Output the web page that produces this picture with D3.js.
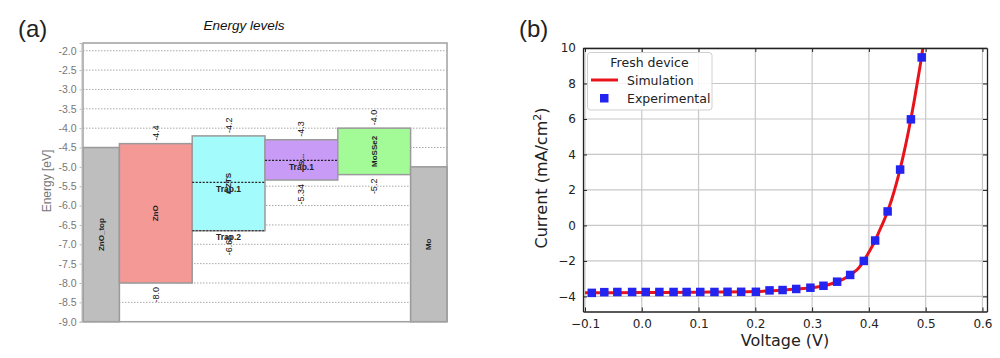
<!DOCTYPE html>
<html>
<head>
<meta charset="utf-8">
<script src="https://cdn.jsdelivr.net/npm/d3@7"></script>
<style>
  html, body { margin: 0; padding: 0; background: #fff; }
  svg { display: block; }
</style>
</head>
<body>
<svg id="chart" width="1000" height="358"></svg>
<script>
// ---------- Panel (a) data: energy levels ----------
const layers = ["ZnO_top", "ZnO", "CZTS", "S...", "MoSSe2", "Mo"];
const layerWidth = [0.5, 1, 1, 1, 1, 0.5];
const bandTop = [-4.5, -4.4, -4.2, -4.3, -4.0, -5.0];
const bandBottom = [-9.0, -8.0, -6.65, -5.34, -5.2, -9.0];
const topLabels = [null, "-4.4", "-4.2", "-4.3", "-4.0", null];
const bottomLabels = [null, "-8.0", "-6.65", "-5.34", "-5.2", null];
const layerColors = ["#bebebe", "#f59997", "#a3fbfb", "#c89bf7", "#a3fb97", "#bebebe"];
const trapLayer = ["CZTS", "CZTS", "S..."];
const trapEnergy = [-5.4, -6.65, -4.83];
const trapName = ["Trap.1", "Trap.2", "Trap.1"];
const energyTicks = [-9.0, -8.5, -8.0, -7.5, -7.0, -6.5, -6.0, -5.5, -5.0, -4.5, -4.0, -3.5, -3.0, -2.5, -2.0];

// ---------- Panel (b) data: J-V curve ----------
const simVoltage = [-0.10, 0.00, 0.10, 0.20, 0.25, 0.28, 0.30, 0.32, 0.33, 0.34, 0.35, 0.36, 0.37, 0.38, 0.39, 0.40, 0.41, 0.42, 0.43, 0.44, 0.45, 0.46, 0.47, 0.48, 0.49, 0.50];
const simCurrent = [-3.80, -3.78, -3.76, -3.72, -3.64, -3.57, -3.51, -3.41, -3.33, -3.23, -3.10, -2.93, -2.72, -2.47, -2.05, -1.50, -0.92, -0.20, 0.55, 1.45, 2.55, 3.85, 5.35, 7.05, 8.95, 11.0];
const expVoltage = [-0.088, -0.066, -0.043, -0.017, 0.007, 0.031, 0.056, 0.079, 0.103, 0.128, 0.151, 0.175, 0.201, 0.225, 0.248, 0.272, 0.297, 0.320, 0.344, 0.367, 0.391, 0.411, 0.433, 0.455, 0.474, 0.493];
const expCurrent = [-3.80, -3.76, -3.75, -3.75, -3.75, -3.75, -3.75, -3.75, -3.75, -3.75, -3.74, -3.74, -3.74, -3.66, -3.64, -3.58, -3.51, -3.40, -3.17, -2.79, -2.0, -0.85, 0.79, 3.15, 5.98, 9.47];
const xTicksB = [-0.1, 0.0, 0.1, 0.2, 0.3, 0.4, 0.5, 0.6];
const yTicksB = [-4, -2, 0, 2, 4, 6, 8, 10];

const svg = d3.select("#chart");

// ================= Panel (a) =================
const aLeft = 83, aRight = 447, aTop = 43, aBottom = 321.7;
const cum = [0];
layerWidth.forEach((w, i) => cum.push(cum[i] + w));
const xA = d3.scaleLinear().domain([0, cum[cum.length - 1]]).range([aLeft, aRight]);
const yA = d3.scaleLinear().domain([-9.0, -1.8]).range([aBottom, aTop]);

svg.append("text").attr("x", 18).attr("y", 37).attr("font-family", "Liberation Sans, Arial, sans-serif")
  .attr("font-size", 24).attr("fill", "#222").text("(a)");
svg.append("text").attr("x", 244).attr("y", 30).attr("text-anchor", "middle")
  .attr("font-family", "Liberation Sans, Arial, sans-serif").attr("font-style", "italic")
  .attr("font-size", 13.5).attr("fill", "#111").text("Energy levels");

const gA = svg.append("g");
gA.append("rect").attr("x", aLeft).attr("y", aTop).attr("width", aRight - aLeft).attr("height", aBottom - aTop).attr("fill", "#fff");
gA.selectAll("line.grid").data(energyTicks).join("line")
  .attr("x1", aLeft).attr("x2", aRight).attr("y1", d => yA(d)).attr("y2", d => yA(d))
  .attr("stroke", "#a8a8a8").attr("stroke-width", 1).attr("stroke-dasharray", "1.5,1.5");

layers.forEach((name, i) => {
  const x0 = xA(cum[i]), x1 = xA(cum[i + 1]);
  gA.append("rect").attr("x", x0).attr("y", yA(bandTop[i]))
    .attr("width", x1 - x0).attr("height", yA(bandBottom[i]) - yA(bandTop[i]))
    .attr("fill", layerColors[i]).attr("stroke", "#9a9a9a").attr("stroke-width", 1.5);
});

trapLayer.forEach((ln, k) => {
  const i = layers.indexOf(ln);
  const x0 = xA(cum[i]), x1 = xA(cum[i + 1]);
  gA.append("line").attr("x1", x0).attr("x2", x1).attr("y1", yA(trapEnergy[k])).attr("y2", yA(trapEnergy[k]))
    .attr("stroke", "#222").attr("stroke-width", 1.2).attr("stroke-dasharray", "2,1.5");
});

const fontA = "Liberation Sans, Arial, sans-serif";
layers.forEach((name, i) => {
  const cx = xA((cum[i] + cum[i + 1]) / 2);
  const cy = yA((bandTop[i] + bandBottom[i]) / 2);
  gA.append("text").attr("transform", `translate(${cx},${cy}) rotate(-90)`)
    .attr("text-anchor", "middle").attr("dominant-baseline", "central")
    .attr("font-family", fontA).attr("font-weight", "bold").attr("font-size", 8).attr("fill", "#222").text(name);
  if (topLabels[i]) {
    gA.append("text").attr("transform", `translate(${cx},${yA(bandTop[i]) - 3}) rotate(-90)`)
      .attr("text-anchor", "start").attr("dominant-baseline", "central")
      .attr("font-family", fontA).attr("font-size", 9).attr("fill", "#111").text(topLabels[i]);
  }
  if (bottomLabels[i]) {
    gA.append("text").attr("transform", `translate(${cx},${yA(bandBottom[i]) + 4}) rotate(-90)`)
      .attr("text-anchor", "end").attr("dominant-baseline", "central")
      .attr("font-family", fontA).attr("font-size", 9).attr("fill", "#111").text(bottomLabels[i]);
  }
});
trapLayer.forEach((ln, k) => {
  const i = layers.indexOf(ln);
  const cx = xA((cum[i] + cum[i + 1]) / 2);
  gA.append("text").attr("x", cx).attr("y", yA(trapEnergy[k]) + 9.5).attr("text-anchor", "middle")
    .attr("font-family", fontA).attr("font-weight", "bold").attr("font-size", 8.5).attr("fill", "#222").text(trapName[k]);
});

gA.append("rect").attr("x", aLeft).attr("y", aTop).attr("width", aRight - aLeft).attr("height", aBottom - aTop)
  .attr("fill", "none").attr("stroke", "#a0a0a0").attr("stroke-width", 1.5);

const axA = gA.append("g").attr("transform", `translate(${aLeft - 1.5},0)`)
  .call(d3.axisLeft(yA).tickValues(energyTicks).tickFormat(d => d.toFixed(1)).tickSize(2).tickPadding(3));
axA.select(".domain").attr("stroke", "#bbb");
axA.selectAll(".tick line").attr("stroke", "#bbb");
axA.selectAll(".tick text").attr("font-family", fontA).attr("font-size", 10.5).attr("fill", "#777");
gA.append("text").attr("transform", `translate(51,181) rotate(-90)`).attr("text-anchor", "middle")
  .attr("font-family", fontA).attr("font-size", 12).attr("fill", "#777").text("Energy [eV]");

// ================= Panel (b) =================
const bLeft = 583, bRight = 987, bTop = 48, bBottom = 311.5;
const xB = d3.scaleLinear().domain([-0.1035, 0.608]).range([bLeft, bRight]);
const yB = d3.scaleLinear().domain([-4.85, 10]).range([bBottom, bTop]);
const fontB = "DejaVu Sans, sans-serif";

svg.append("text").attr("x", 519).attr("y", 37).attr("font-family", "Liberation Sans, Arial, sans-serif")
  .attr("font-size", 24).attr("fill", "#222").text("(b)");

const gB = svg.append("g");
gB.append("defs").append("clipPath").attr("id", "clipB").append("rect")
  .attr("x", bLeft).attr("y", bTop).attr("width", bRight - bLeft).attr("height", bBottom - bTop);

gB.selectAll("line.gx").data(xTicksB).join("line")
  .attr("x1", d => xB(d)).attr("x2", d => xB(d)).attr("y1", bTop).attr("y2", bBottom)
  .attr("stroke", "#c8c8c8").attr("stroke-width", 1.2);
gB.selectAll("line.gy").data(yTicksB).join("line")
  .attr("x1", bLeft).attr("x2", bRight).attr("y1", d => yB(d)).attr("y2", d => yB(d))
  .attr("stroke", "#c8c8c8").attr("stroke-width", 1.2);

const simData = simVoltage.map((v, i) => [v, simCurrent[i]]);
gB.append("path").datum(simData).attr("clip-path", "url(#clipB)")
  .attr("d", d3.line().x(d => xB(d[0])).y(d => yB(d[1])).curve(d3.curveMonotoneX))
  .attr("fill", "none").attr("stroke", "#e8141c").attr("stroke-width", 3);

const expData = expVoltage.map((v, i) => [v, expCurrent[i]]);
const ms = 8.5;
gB.selectAll("rect.exp").data(expData).join("rect")
  .attr("x", d => xB(d[0]) - ms / 2).attr("y", d => yB(d[1]) - ms / 2)
  .attr("width", ms).attr("height", ms).attr("fill", "#2424f0").attr("clip-path", "url(#clipB)");

const tl = 4;
const axBottom = gB.append("g").attr("transform", `translate(0,${bBottom})`)
  .call(d3.axisBottom(xB).tickValues(xTicksB).tickFormat(d3.format(".1f")).tickSizeInner(-tl).tickSizeOuter(0).tickPadding(8));
const axLeft = gB.append("g").attr("transform", `translate(${bLeft},0)`)
  .call(d3.axisLeft(yB).tickValues(yTicksB).tickFormat(d3.format("d")).tickSizeInner(-tl).tickSizeOuter(0).tickPadding(7));
const axTop = gB.append("g").attr("transform", `translate(0,${bTop})`)
  .call(d3.axisTop(xB).tickValues(xTicksB).tickFormat("").tickSizeInner(-tl).tickSizeOuter(0));
const axRight = gB.append("g").attr("transform", `translate(${bRight},0)`)
  .call(d3.axisRight(yB).tickValues(yTicksB).tickFormat("").tickSizeInner(-tl).tickSizeOuter(0));
[axBottom, axLeft, axTop, axRight].forEach(a => {
  a.select(".domain").attr("stroke", "#222").attr("stroke-width", 1.3);
  a.selectAll(".tick line").attr("stroke", "#222").attr("stroke-width", 1);
  a.selectAll(".tick text").attr("font-family", fontB).attr("font-size", 12).attr("fill", "#222");
});

gB.append("text").attr("x", (bLeft + bRight) / 2).attr("y", 346).attr("text-anchor", "middle")
  .attr("font-family", fontB).attr("font-size", 16).attr("fill", "#222").text("Voltage (V)");
const yl = gB.append("text").attr("transform", "translate(547,178) rotate(-90)").attr("text-anchor", "middle")
  .attr("font-family", fontB).attr("font-size", 16).attr("fill", "#222");
yl.append("tspan").text("Current (mA/cm");
yl.append("tspan").attr("font-size", 11).attr("dy", -6).text("2");
yl.append("tspan").attr("dy", 6).text(")");

const lg = gB.append("g");
lg.append("rect").attr("x", 587.5).attr("y", 52.5).attr("width", 124.5).attr("height", 57.5).attr("rx", 3)
  .attr("fill", "rgba(255,255,255,0.85)").attr("stroke", "#d0d0d0").attr("stroke-width", 1);
lg.append("text").attr("x", 649.5).attr("y", 66.5).attr("text-anchor", "middle")
  .attr("font-family", fontB).attr("font-size", 12.5).attr("fill", "#222").text("Fresh device");
lg.append("line").attr("x1", 591).attr("x2", 618).attr("y1", 80).attr("y2", 80)
  .attr("stroke", "#e8141c").attr("stroke-width", 3);
lg.append("text").attr("x", 627).attr("y", 84.5)
  .attr("font-family", fontB).attr("font-size", 12.5).attr("fill", "#222").text("Simulation");
lg.append("rect").attr("x", 600).attr("y", 94).attr("width", ms).attr("height", ms).attr("fill", "#2424f0");
lg.append("text").attr("x", 627).attr("y", 102.5)
  .attr("font-family", fontB).attr("font-size", 12.5).attr("fill", "#222").text("Experimental");
</script>
</body>
</html>
